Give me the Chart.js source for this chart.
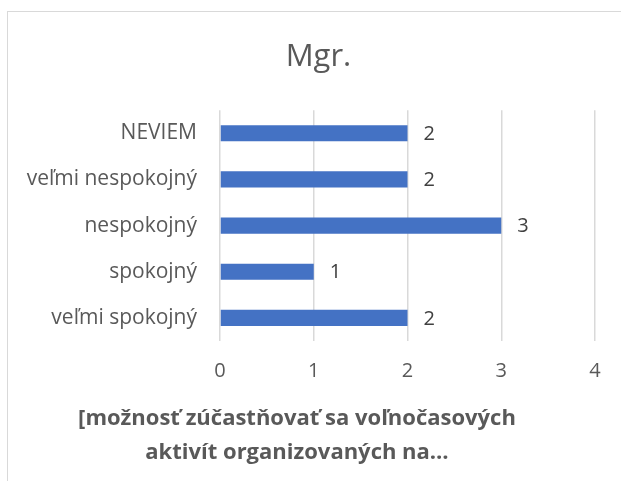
<!DOCTYPE html>
<html>
<head>
<meta charset="utf-8">
<script src="https://cdn.jsdelivr.net/npm/chart.js@4"></script>
<style>
    html, body { margin: 0; padding: 0; background: #fff; overflow: hidden; }
    #ramcek {
        position: absolute;
        left: 7px;
        top: 11px;
        width: 680px;
        height: 500px;
        border-left: 1px solid #d9d9d9;
        border-top: 1px solid #d9d9d9;
    }
</style>
</head>
<body>
<div id="ramcek"><canvas id="graf" width="653" height="480"></canvas></div>
<script>
const kategorie = ['veľmi spokojný', 'spokojný', 'nespokojný', 'veľmi nespokojný', 'NEVIEM'];
const hodnoty = [2, 1, 3, 2, 2];
const nadpis = 'Mgr.';
const popisOsi = ['[možnosť zúčastňovať sa voľnočasových', 'aktivít organizovaných na…'];

const sivaText = '#595959';
const pismo = 'Open Sans';

// hodnoty vedla stlpcov
const hodnotyPlugin = {
    id: 'hodnotyPlugin',
    afterDatasetsDraw: (chart) => {
        const ctx = chart.ctx;
        const meta = chart.getDatasetMeta(0);
        ctx.save();
        ctx.font = '20px "' + pismo + '"';
        ctx.fillStyle = '#404040';
        ctx.textAlign = 'left';
        ctx.textBaseline = 'middle';
        meta.data.forEach((bar, i) => {
            ctx.fillText(String(hodnoty[i]), bar.x + 16, bar.y + 1);
        });
        ctx.restore();
    }
};

// nadpis je v povodnom grafe centrovany na celu sirku, nie na plochu
const posunNadpisu = {
    id: 'posunNadpisu',
    afterLayout: (chart) => {
        if (chart.titleBlock) {
            chart.titleBlock.left += 17;
            chart.titleBlock.right += 17;
        }
    }
};

// popis osi dole, centrovany na celu sirku grafu
const popisPlugin = {
    id: 'popisPlugin',
    afterDraw: (chart) => {
        const ctx = chart.ctx;
        const dole = chart.chartArea.bottom;
        ctx.save();
        ctx.font = 'bold 22px "' + pismo + '"';
        ctx.fillStyle = sivaText;
        ctx.textAlign = 'center';
        ctx.textBaseline = 'middle';
        popisOsi.forEach((riadok, i) => {
            ctx.fillText(riadok, 289, dole + 78 + i * 34);
        });
        ctx.restore();
    }
};

const ctx = document.getElementById('graf').getContext('2d');

new Chart(ctx, {
    type: 'bar',
    data: {
        labels: kategorie,
        datasets: [{
            data: hodnoty,
            backgroundColor: '#4472c4',
            borderWidth: 0,
            categoryPercentage: 0.35,
            barPercentage: 1
        }]
    },
    options: {
        indexAxis: 'y',
        responsive: false,
        animation: false,
        layout: {
            padding: { left: 0, right: 66, top: 0, bottom: 91 }
        },
        plugins: {
            legend: { display: false },
            tooltip: { enabled: false },
            title: {
                display: true,
                text: nadpis,
                color: sivaText,
                font: { family: pismo, size: 31, weight: 'normal' },
                padding: { top: 27, bottom: 34 }
            }
        },
        scales: {
            x: {
                min: 0,
                max: 4,
                ticks: {
                    stepSize: 1,
                    color: sivaText,
                    font: { family: pismo, size: 20 },
                    padding: 18
                },
                grid: {
                    color: '#d9d9d9',
                    lineWidth: 1.5,
                    drawTicks: false
                },
                border: { display: false }
            },
            y: {
                reverse: true,
                ticks: {
                    color: sivaText,
                    font: { family: pismo, size: 21 },
                    padding: 23
                },
                grid: { display: false, drawTicks: false },
                border: { display: false },
                afterFit: (skala) => { skala.width = 212; }
            }
        }
    },
    plugins: [hodnotyPlugin, posunNadpisu, popisPlugin]
});
</script>
</body>
</html>
